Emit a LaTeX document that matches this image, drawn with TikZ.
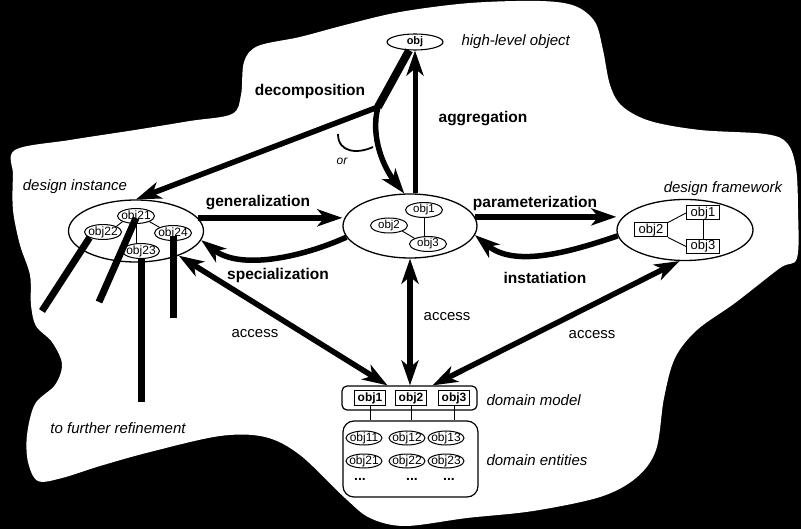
\documentclass[tikz,border=0pt]{standalone}
\usepackage{fontspec}
\setmainfont{Liberation Sans}
\usetikzlibrary{arrows.meta,shapes.geometric,calc}

\begin{document}
\begin{tikzpicture}[x=1pt,y=-1pt,
  tip/.tip={Stealth[length=25pt,width=17pt,inset=7pt]},
  bigell/.style={draw, ellipse, line width=1.3pt, inner sep=0pt},
  objell/.style={draw, fill=white, ellipse, line width=1pt, inner xsep=-3pt, inner ysep=-1.5pt,
    minimum width=37pt, minimum height=15pt, font=\fontsize{12}{12}\selectfont},
  objrect/.style={draw, fill=white, rectangle, line width=1pt, inner sep=0pt,
    minimum width=33pt, minimum height=14pt},
  arr/.style={line width=5.5pt, -tip},
  darr/.style={line width=5.5pt, tip-tip},
  refine/.style={line width=7pt},
  link/.style={line width=0.9pt},
  rel/.style={font=\fontsize{15.5}{18}\selectfont\bfseries},
  acc/.style={font=\fontsize{15}{18}\selectfont},
  desc/.style={font=\fontsize{15}{18}\selectfont\itshape},
  more/.style={inner sep=0pt, font=\fontsize{14}{14}\selectfont\bfseries},
]
\useasboundingbox (0,0) rectangle (801,529);

% dark surround and the white cloud holding the diagram
\fill[black] (0,0) rectangle (801,529);
\fill[white] plot[smooth cycle, tension=0.55] coordinates {
  (15,150) (70,140) (135,130) (190,121) (232,114) (241,95) (244,62) (258,46)
  (300,37) (345,25) (400,12) (470,3) (540,1) (575,6) (595,22) (603,50)
  (610,85) (622,106) (650,121) (700,130) (765,134) (787,143) (796,168)
  (798,210) (797,258) (780,268) (735,303) (697,330) (675,358) (664,398)
  (656,450) (636,478) (600,497) (533,511) (467,518) (405,526) (370,518)
  (345,498) (300,455) (265,437) (220,436) (150,452) (100,466) (62,478)
  (38,481) (28,462) (27,435) (35,404) (55,385) (62,364) (52,342) (36,326)
  (31,305) (30,275) (20,245) (13,210) (13,175)};

% high-level object
\node[bigell, line width=1.1pt, minimum width=56pt, minimum height=16pt,
  font=\fontsize{11}{11}\selectfont\bfseries] (top) at (415,42) {obj};
\node[desc, anchor=west] (toplbl) at (458,42) {high-level object};

% central object
\node[bigell, minimum width=134pt, minimum height=64pt] (ctr) at (410,226) {};
\node[objell, font=\fontsize{11.5}{12}\selectfont] (c1) at (424,210) {obj1};
\node[objell, font=\fontsize{11.5}{12}\selectfont] (c2) at (389,225.5) {obj2};
\node[objell, font=\fontsize{11.5}{12}\selectfont] (c3) at (428,244) {obj3};
\draw[link] (c1.south) -- (c1.south |- c3.north);
\draw[link] (c2.south east) -- (c3.north west);

% design instance
\node[desc] (instlbl) at (75,187) {design instance};
\node[bigell, minimum width=135pt, minimum height=62pt] (inst) at (136,231) {};
\node[objell] (o21) at (136,216) {obj21};
\node[objell] (o22) at (103,232) {obj22};
\node[objell] (o24) at (173,233) {obj24};
\node[objell] (o23) at (141,251) {obj23};
\draw[link] (o21.south) -- (o21.south |- o23.north);
\draw[link] (o21.south west) -- (o22.north east);
\draw[link] (o21.south east) -- (o24.north west);

% design framework
\node[desc] (fwlbl) at (723,189) {design framework};
\node[bigell, minimum width=136pt, minimum height=61pt] (fw) at (685,230) {};
\node[objrect, font=\fontsize{13}{13}\selectfont] (f1) at (703,213) {obj1};
\node[objrect, font=\fontsize{13}{13}\selectfont] (f2) at (651,230) {obj2};
\node[objrect, font=\fontsize{13}{13}\selectfont] (f3) at (703,246.5) {obj3};
\draw[link] (f1.south) -- (f3.north);
\draw[link] (f2.north east) -- (f1.west);
\draw[link] (f2.south east) -- (f3.west);

% domain model and domain entities
\node[draw, rectangle, rounded corners=5pt, line width=1.2pt,
  minimum width=135pt, minimum height=24pt] (dm) at (409.5,398) {};
\node[objrect, minimum width=31pt, minimum height=15pt,
  font=\fontsize{12}{12}\selectfont\bfseries] (m1) at (370,398) {obj1};
\node[objrect, minimum width=31pt, minimum height=15pt,
  font=\fontsize{12}{12}\selectfont\bfseries] (m2) at (411,398) {obj2};
\node[objrect, minimum width=31pt, minimum height=15pt,
  font=\fontsize{12}{12}\selectfont\bfseries] (m3) at (454,398) {obj3};
\node[desc, anchor=west] (dmlbl) at (483,400) {domain model};

\node[draw, rectangle, rounded corners=11pt, line width=1.2pt,
  minimum width=135pt, minimum height=76pt] (de) at (410.5,459) {};
\draw[link] (m1.south) -- (m1.south |- de.north);
\draw[link] (m2.south) -- (m2.south |- de.north);
\draw[link] (m3.south) -- (m3.south |- de.north);
\node[objell, minimum width=36pt, minimum height=14pt] (e11) at (364,438) {obj11};
\node[objell, minimum width=36pt, minimum height=14pt] (e12) at (407,438) {obj12};
\node[objell, minimum width=36pt, minimum height=14pt] (e13) at (446,438) {obj13};
\node[objell, minimum width=36pt, minimum height=14pt] (e21) at (364,461) {obj21};
\node[objell, minimum width=36pt, minimum height=14pt] (e22) at (407,461) {obj22};
\node[objell, minimum width=36pt, minimum height=14pt] (e23) at (446,461) {obj23};
\node[more] (d1) at (360,479) {...};
\node[more] (d2) at (412,479) {...};
\node[more] (d3) at (449,479) {...};
\node[desc, anchor=west] (delbl) at (483,460) {domain entities};

% refinement stubs leaving the design instance
\coordinate (r1) at (42,311);
\coordinate (r2) at (99,302);
\coordinate (r3) at (141,402);
\coordinate (r4) at (173,318);
\draw[refine] (o22.south west) -- (r1);
\draw[refine] ($(o21.center)+(0,2)$) -- (r2);
\draw[refine] (o23.south) -- (r3);
\draw[refine] ($(o24.center)+(0,3)$) -- (r4);
\node[desc] (reflbl) at (118,428) {to further refinement};

% aggregation
\draw[arr, line width=5pt] (top.south |- ctr.north) -- (top.south);
\node[rel] (agglbl) at (483,119) {aggregation};

% decomposition: trunk, then two alternative branches
\coordinate (br) at (378,107);
\draw[line width=8pt] (top.235) -- (br);
\draw[arr] (br) -- (inst.north);
\draw[arr] (br) .. controls (370,137) and (384,168) .. (ctr.100);
\draw[line width=1.8pt] (338,134) .. controls (338,153) and (358,154) .. (373,147);
\node[font=\fontsize{12}{12}\selectfont\itshape] (orlbl) at (342,161) {or};
\node[rel] (declbl) at (310,91) {decomposition};

% generalization / specialization
\draw[arr] (inst.12) -- (inst.12 -| ctr.west);
\node[rel] (genlbl) at (258,203) {generalization};
\draw[arr] (ctr.190) .. controls (300,258) and (240,270) .. (inst.352);
\node[rel] (speclbl) at (278,275) {specialization};

% parameterization / instatiation
\draw[arr] (ctr.8) -- (ctr.8 -| fw.west);
\node[rel] (parlbl) at (535,203) {parameterization};
\draw[arr] (fw.185) .. controls (570,252) and (515,268) .. (ctr.352);
\node[rel] (instlbl2) at (545,278) {instatiation};

% access to the domain model
\draw[darr] (inst.330) -- ($(dm.north)+(-22,0)$);
\draw[darr] (ctr.south) -- (ctr.south |- dm.north);
\draw[darr] (fw.260) -- ($(dm.north)+(23,0)$);
\node[acc] (acc1) at (255,334) {access};
\node[acc] (acc2) at (447,317) {access};
\node[acc] (acc3) at (592,335) {access};
\end{tikzpicture}
\end{document}
